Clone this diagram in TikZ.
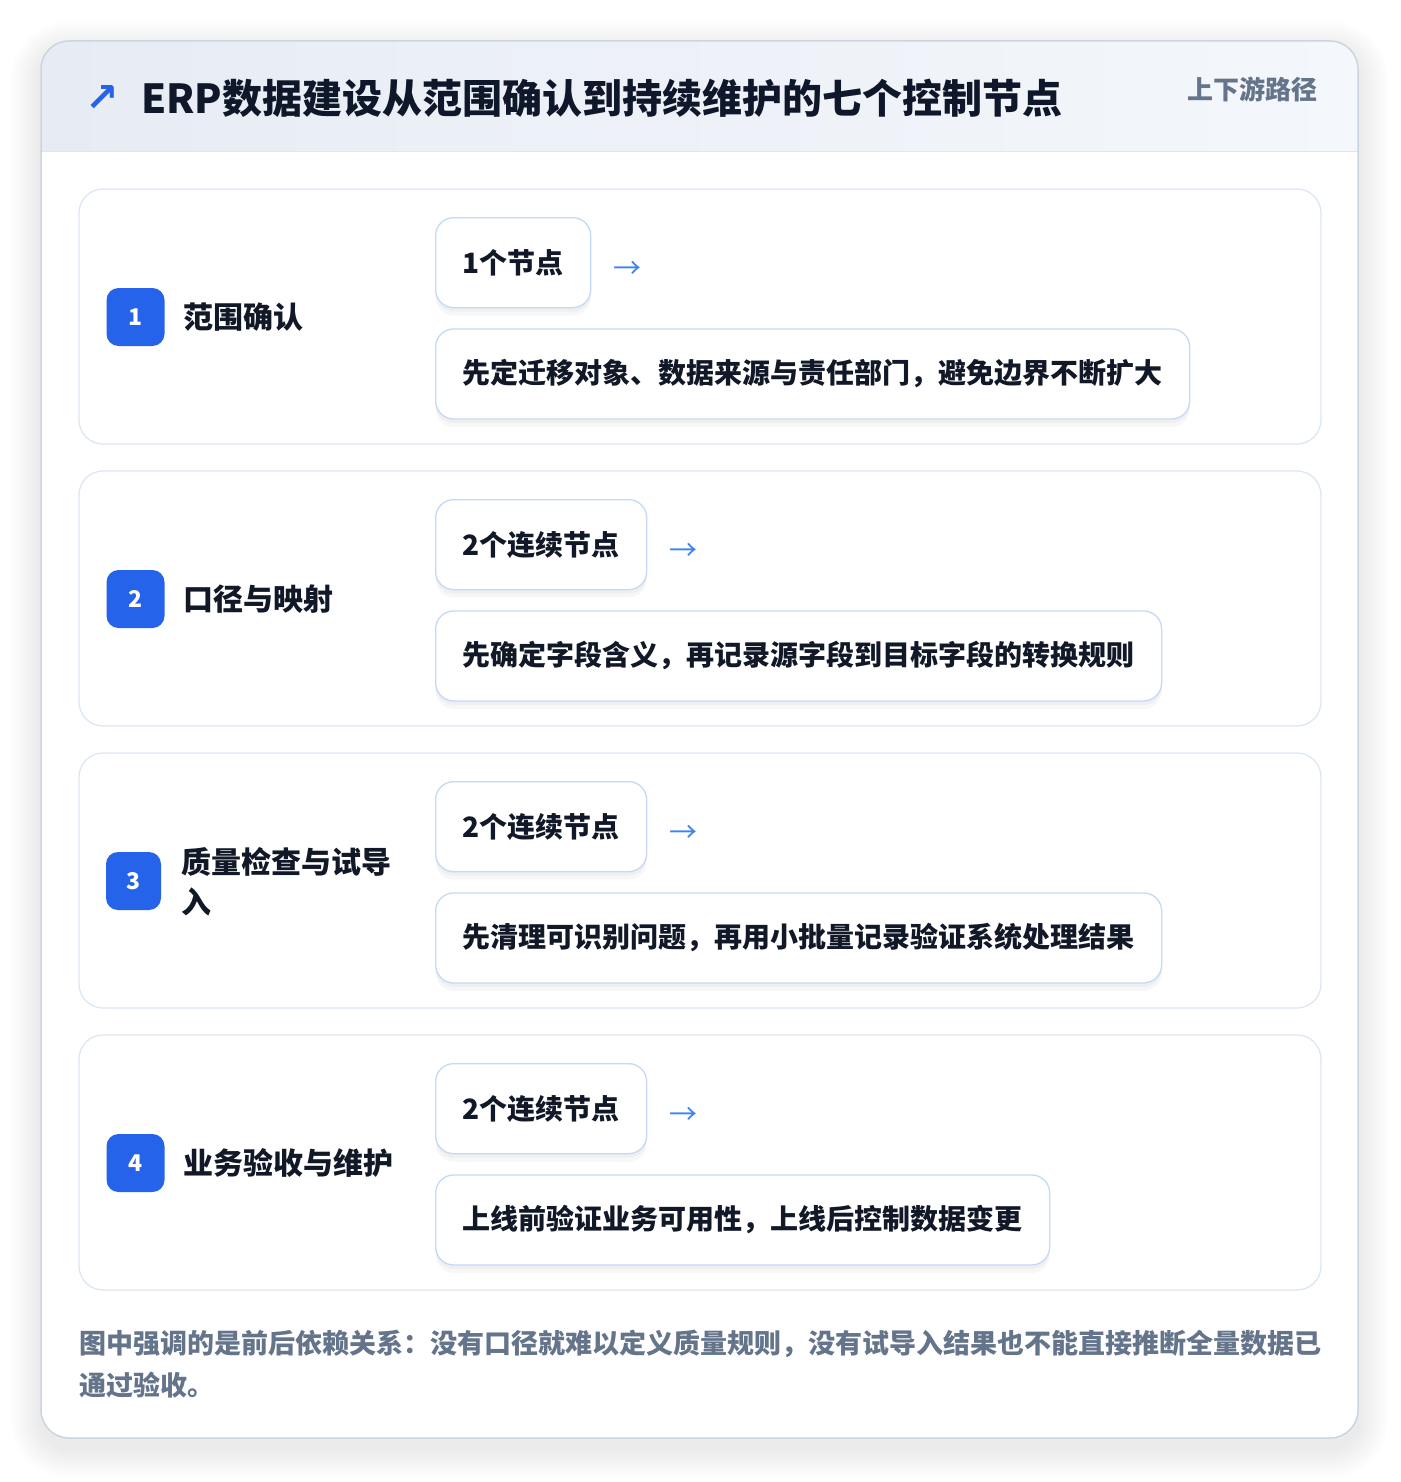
\documentclass[tikz,border=0pt]{standalone}
\usepackage{fontspec}
\setmainfont{Noto Sans CJK SC}
\newfontfamily\heavyfont{Noto Sans CJK SC Black}
\newfontfamily\symfont{DejaVu Sans}
\usepackage{xcolor}
\usepackage{tikz}
\usetikzlibrary{positioning}

\definecolor{accent}{HTML}{2563EB}
\definecolor{arrowBlue}{HTML}{3B82F6}
\definecolor{titleInk}{HTML}{0F172A}
\definecolor{labelInk}{HTML}{111827}
\definecolor{muted}{HTML}{64748B}
\definecolor{cardLine}{HTML}{CBD5E1}
\definecolor{rowLine}{HTML}{DCE7F5}
\definecolor{chipLine}{HTML}{C3DAF7}
\definecolor{headLeft}{HTML}{E7ECF4}
\definecolor{headRight}{HTML}{F4F7FB}

\begin{document}
\begin{tikzpicture}[x=1pt, y=-1pt,
    rowCard/.style={draw=rowLine, fill=white, line width=1.3pt, rounded corners=24pt,
        minimum width=1242pt, minimum height=255pt, inner sep=0pt},
    badge/.style={fill=accent, rounded corners=12pt, minimum width=58pt, minimum height=58pt,
        inner sep=0pt, text=white, font=\bfseries\fontsize{23}{24}\selectfont},
    stepLabel/.style={inner sep=0pt, anchor=west, text=labelInk, align=left,
        font=\bfseries\fontsize{30}{40}\selectfont},
    chip/.style={draw=chipLine, fill=white, line width=1.3pt, rounded corners=18pt,
        minimum height=90pt, inner xsep=27pt, inner ysep=0pt, text=labelInk,
        font=\bfseries\fontsize{28}{32}\selectfont,
        preaction={fill=black, opacity=0.03, transform canvas={yshift=-8pt}},
        preaction={fill=black, opacity=0.03, transform canvas={yshift=-4pt}}},
    flowArrow/.style={inner sep=0pt, text=arrowBlue, font=\fontsize{28}{28}\selectfont}]

    \useasboundingbox[fill=white] (0,0) rectangle (1400,1482);

    % outer card with soft shadow and header band
    \foreach \s in {3,6,...,30}
        \fill[black, opacity=0.008, rounded corners=28pt+\s pt]
            (41-\s,41-\s+10) rectangle (1358+\s,1438+\s+10);
    \begin{scope}
        \clip[rounded corners=28pt] (41,41) rectangle (1358,1438);
        \fill[white] (41,41) rectangle (1358,1438);
        \shade[left color=headLeft, right color=headRight] (41,41) rectangle (1358,151);
    \end{scope}
    \draw[rowLine, line width=1.5pt] (41,151.5) -- (1358,151.5);
    \draw[cardLine, line width=1.5pt, rounded corners=28pt] (41,41) rectangle (1358,1438);

    \node[text=accent, inner sep=0pt, font=\symfont\bfseries\fontsize{40}{40}\selectfont] (icon) at (102,99) {↗};
    \node[anchor=west, inner sep=0pt, text=titleInk, font=\heavyfont\fontsize{40}{48}\selectfont] (title) at (141,98)
        {ERP数据建设从范围确认到持续维护的七个控制节点};
    \node[anchor=east, inner sep=0pt, text=muted, font=\bfseries\fontsize{26}{30}\selectfont] (tag) at (1318,89) {上下游路径};

    % row 1
    \node[rowCard] (row1) at (700,316.5) {};
    \node[badge] (badge1) at (135.5,317) {1};
    \node[stepLabel, right=19pt of badge1] (label1) {范围确认};
    \node[chip, anchor=north west] (chip1) at (435,217) {1个节点};
    \node[flowArrow, right=22pt of chip1, yshift=-7pt] (arrow1) {→};
    \node[chip, below=20pt of chip1.south west, anchor=north west] (desc1)
        {先定迁移对象、数据来源与责任部门，避免边界不断扩大};

    % row 2
    \node[rowCard] (row2) at (700,598.5) {};
    \node[badge] (badge2) at (135.5,599) {2};
    \node[stepLabel, right=19pt of badge2] (label2) {口径与映射};
    \node[chip, anchor=north west] (chip2) at (435,499) {2个连续节点};
    \node[flowArrow, right=22pt of chip2, yshift=-7pt] (arrow2) {→};
    \node[chip, below=20pt of chip2.south west, anchor=north west] (desc2)
        {先确定字段含义，再记录源字段到目标字段的转换规则};

    % row 3
    \node[rowCard] (row3) at (700,880.5) {};
    \node[badge, minimum width=55pt] (badge3) at (133.5,881) {3};
    \node[stepLabel] (label3) at (181,882) {质量检查与试导\\入};
    \node[chip, anchor=north west] (chip3) at (435,781) {2个连续节点};
    \node[flowArrow, right=22pt of chip3, yshift=-7pt] (arrow3) {→};
    \node[chip, below=20pt of chip3.south west, anchor=north west] (desc3)
        {先清理可识别问题，再用小批量记录验证系统处理结果};

    % row 4
    \node[rowCard] (row4) at (700,1162.5) {};
    \node[badge] (badge4) at (135.5,1163) {4};
    \node[stepLabel, right=19pt of badge4] (label4) {业务验收与维护};
    \node[chip, anchor=north west] (chip4) at (435,1063) {2个连续节点};
    \node[flowArrow, right=22pt of chip4, yshift=-7pt] (arrow4) {→};
    \node[chip, below=20pt of chip4.south west, anchor=north west] (desc4)
        {上线前验证业务可用性，上线后控制数据变更};

    % footnote
    \node[anchor=west, inner sep=0pt, align=left, text=muted, font=\bfseries\fontsize{27}{42}\selectfont] (note) at (79,1364)
        {图中强调的是前后依赖关系：没有口径就难以定义质量规则，没有试导入结果也不能直接推断全量数据已\\通过验收。};
\end{tikzpicture}
\end{document}
